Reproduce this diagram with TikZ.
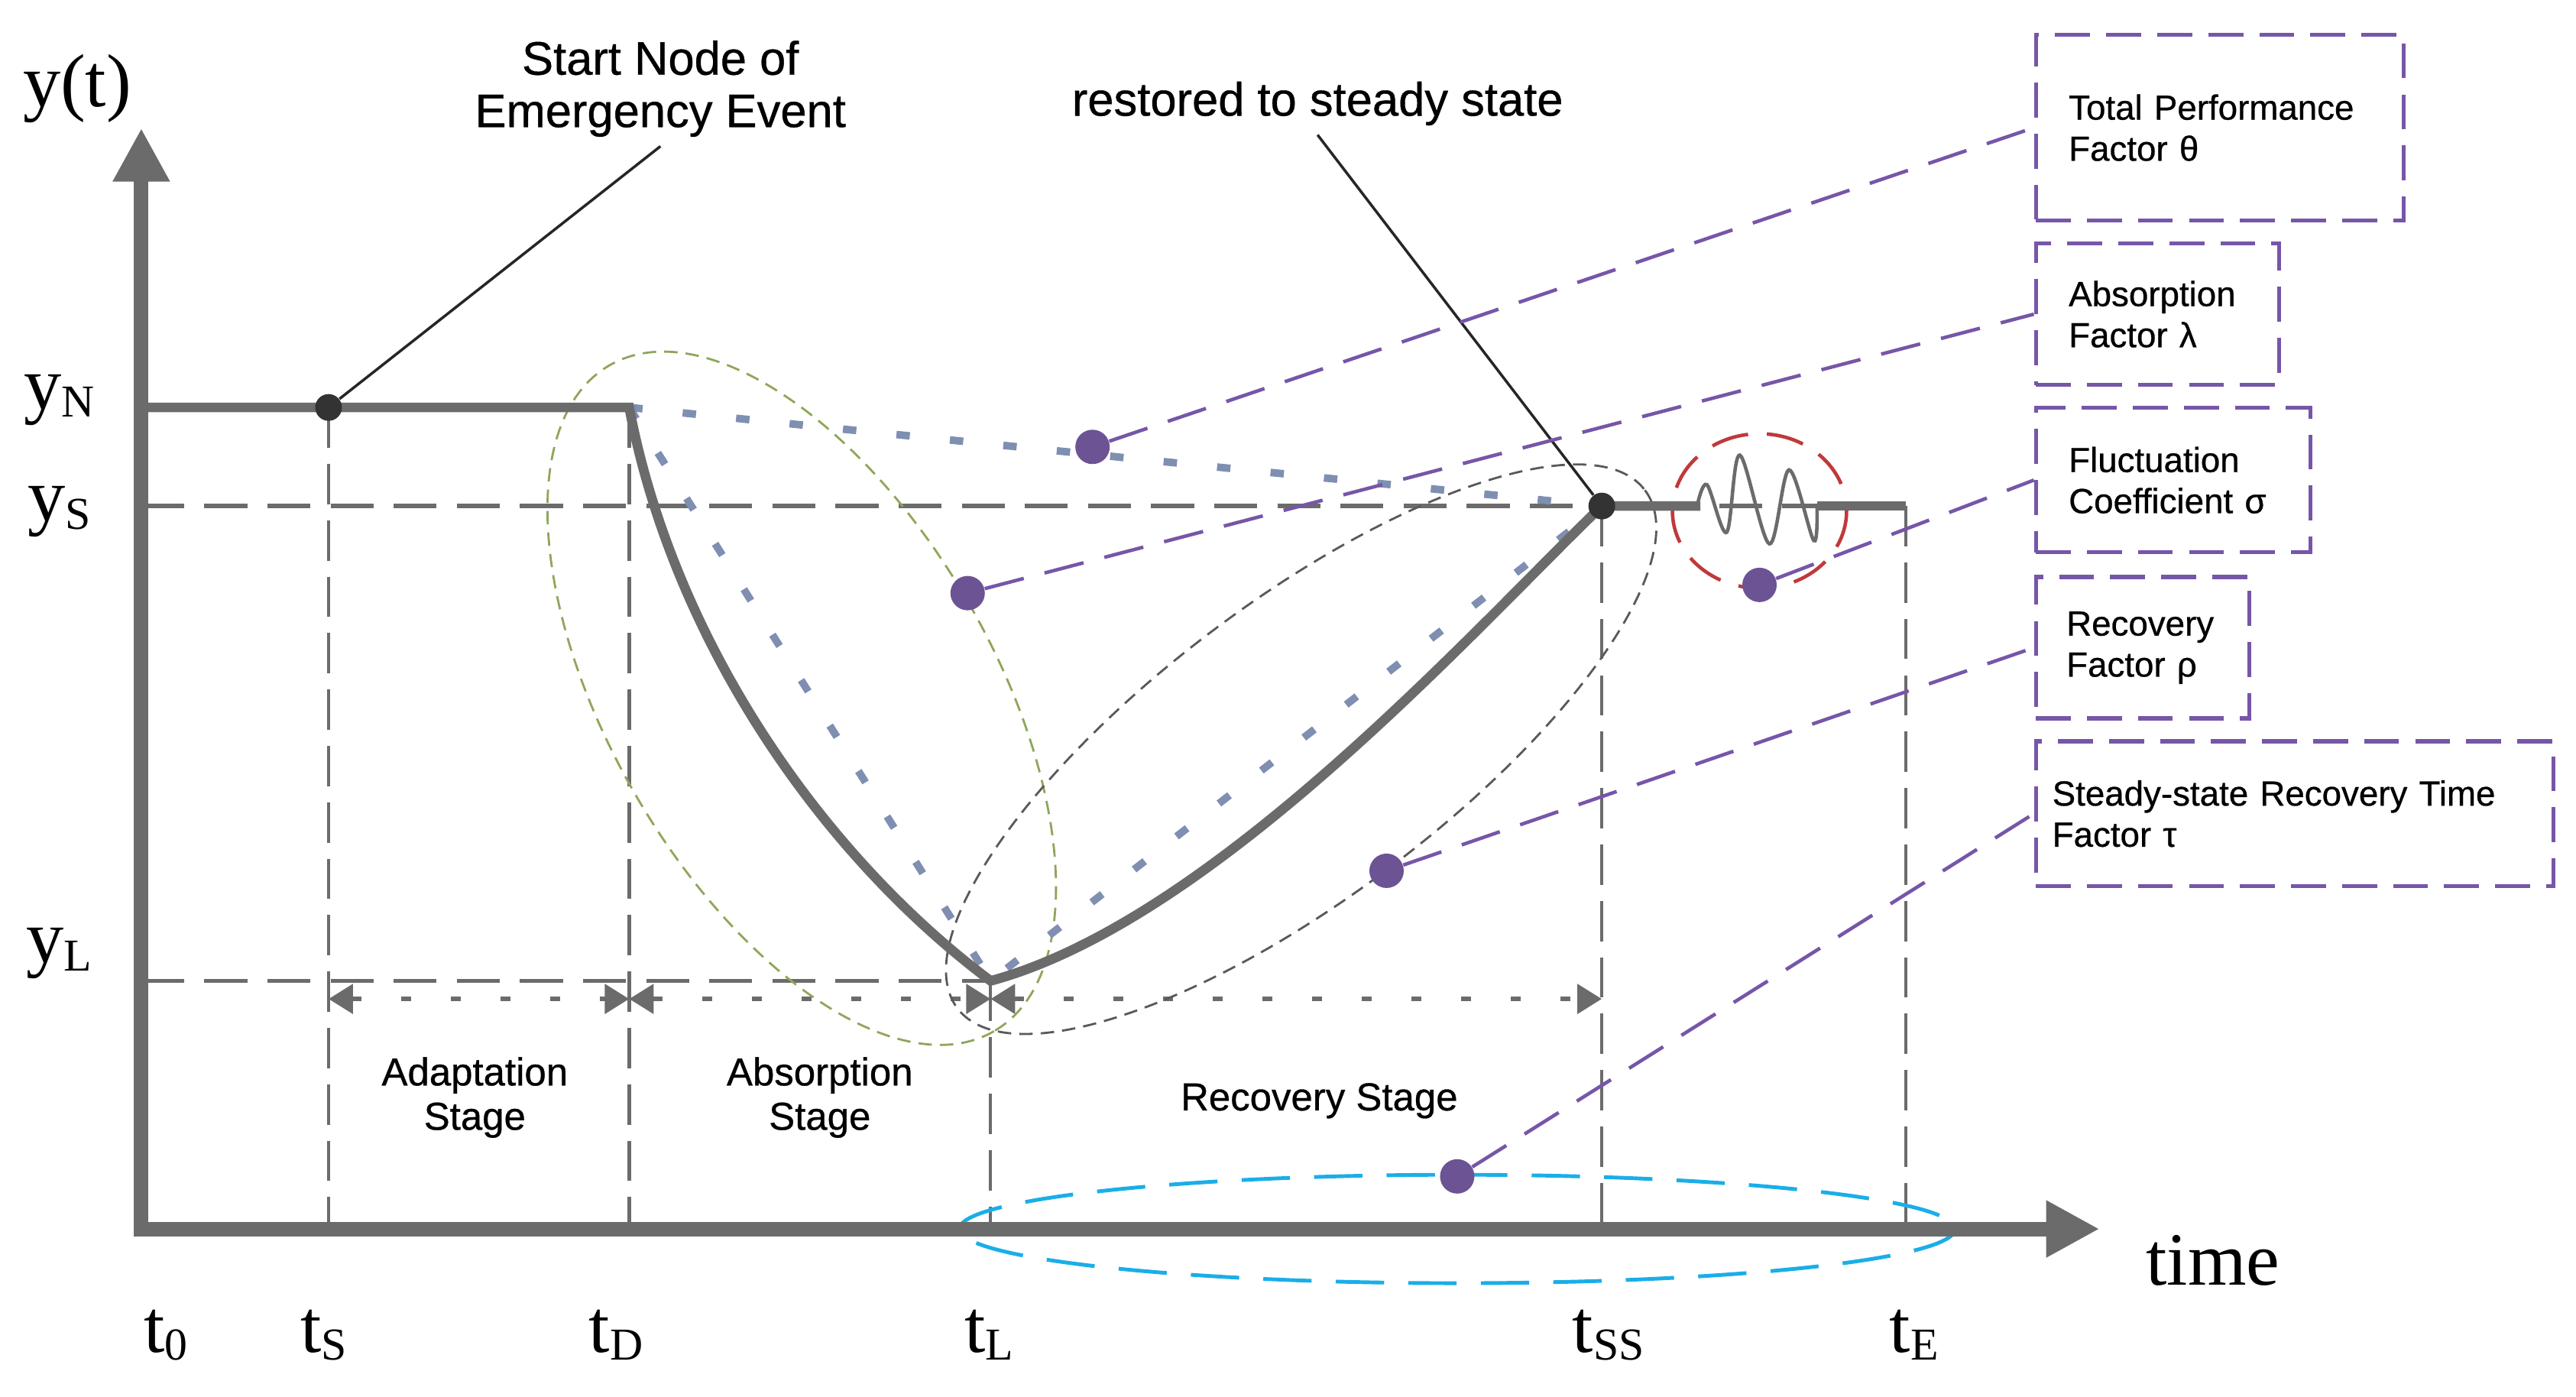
\documentclass[tikz,border=0pt]{standalone}
\usepackage{fontspec}
\setmainfont{Liberation Serif}
\newfontfamily\notefont[FakeBold=0.6]{Liberation Sans}
\newfontfamily\factorfont[FakeBold=0.6]{Liberation Sans}
\usetikzlibrary{arrows.meta,calc}
\definecolor{axgray}{HTML}{6B6B6B}
\definecolor{trackblue}{HTML}{7F8FB2}
\definecolor{facpurple}{HTML}{7656A8}
\definecolor{dotpurple}{HTML}{6C5394}
\definecolor{zonegreen}{HTML}{8FA65A}
\definecolor{zonered}{HTML}{C0393B}
\definecolor{zonecyan}{HTML}{1AAEE8}
\tikzset{
    >=Stealth,
    res/.style={
        x=0.0215cm, y=-0.0215cm,
        axis/.append style={draw=axgray,line width=5.4pt,{Triangle[length=0.7cm,width=0.7cm]}-{Triangle[length=0.7cm,width=0.7cm]}},
        perf/.append style={draw=axgray,line width=3.6pt},
        guide/.append style={draw=axgray,line width=1.6pt,dash pattern=on 16pt off 7.5pt},
        drop/.append style={draw=axgray,line width=1.2pt,dash pattern=on 15pt off 6pt},
        track/.append style={draw=trackblue,line width=2.8pt,dash pattern=on 5pt off 15pt},
        span/.append style={draw=axgray,line width=1.8pt,dash pattern=on 3.7pt off 14.8pt,{Triangle[length=0.32cm,width=0.38cm]}-{Triangle[length=0.32cm,width=0.38cm]}},
        link/.append style={draw=facpurple,line width=1.3pt,dash pattern=on 15pt off 8pt},
        lead/.append style={draw=black!85,line width=1pt},
        zone/.append style={line width=0.8pt,dash pattern=on 5pt off 3pt},
        sdot/.append style={circle,fill=black!80,inner sep=0pt,minimum size=0.35cm},
        pdot/.append style={circle,fill=dotpurple,inner sep=0pt,minimum size=0.45cm},
        axlbl/.append style={font=\fontsize{28}{30}\selectfont,inner sep=0pt,anchor=base},
        note/.append style={font=\notefont\fontsize{17.5}{19.5}\selectfont,align=center},
        stage/.append style={font=\notefont\fontsize{14.5}{16.5}\selectfont,align=center},
        factor/.append style={draw=facpurple,line width=1.5pt,dash pattern=on 13pt off 6pt,anchor=north west,align=left,inner xsep=0.43cm,font=\factorfont\fontsize{13}{15.3}\selectfont}
    }
}
\newcommand{\lowidx}[1]{\raisebox{-3pt}{\fontsize{17}{17}\selectfont #1}}

\begin{document}
\begin{tikzpicture}[res]
    \useasboundingbox (0,0) rectangle (1568,850);
    \coordinate (o) at (86,748);
    \coordinate (ytip) at (86,78);
    \coordinate (xtip) at (1278,748);
    \coordinate (yn) at (86,248);
    \coordinate (pstart) at (200,248);
    \coordinate (drop) at (383,248);
    \coordinate (low) at (603,597);
    \coordinate (pss) at (975,308);
    \coordinate (wa) at (1035,308);
    \coordinate (wb) at (1106,308);
    \coordinate (tend) at (1160,308);
    \coordinate (sp) at (86,608);

    % guide lines
    \draw[guide] (o |- pss) -- (tend);
    \draw[guide] (o |- low) -- (low);
    \draw[drop] (pstart) -- (pstart |- o);
    \draw[drop] (drop) -- (drop |- o);
    \draw[drop] (low) -- (low |- o);
    \draw[drop] (pss) -- (pss |- o);
    \draw[drop] (tend) -- (tend |- o);

    % stages
    \draw[span] (pstart |- sp) -- (drop |- sp);
    \draw[span] (drop |- sp) -- (low |- sp);
    \draw[span] (low |- sp) -- (pss |- sp);
    \node[stage] (adapt) at (289,668) {Adaptation\\Stage};
    \node[stage] (absorb) at (499,668) {Absorption\\Stage};
    \node[stage] (recov) at (803,670) {Recovery Stage};

    % zones
    \draw[zone,draw=zonegreen,rotate around={-60:(488,425)}] (488,425) ellipse [x radius=234,y radius=117];
    \draw[zone,draw=black!65,rotate around={37:(792,456)}] (792,456) ellipse [x radius=262,y radius=90];
    \draw[zone,draw=zonered,line width=1.3pt,dash pattern=on 14pt off 7pt] (1071,311) ellipse [x radius=53,y radius=47];
    \draw[zone,draw=zonecyan,line width=1.4pt,dash pattern=on 18pt off 9pt] (887,748) ellipse [x radius=303,y radius=33];

    % linear references
    \draw[track] (drop) -- (pss);
    \draw[track] (drop) -- (low) -- (pss);

    % axes and performance curve
    \draw[axis] (ytip) -- (o) -- (xtip);
    \draw[perf] (yn) -- (drop) .. controls (410,390) and (500,520) .. (low)
        .. controls (740,560) and (900,380) .. (pss) -- (wa);
    \draw[perf] (wb) -- (tend);
    \draw[axgray,line width=1.3pt] plot[smooth,tension=0.55] coordinates {(1033,308) (1039,295) (1051,324) (1059,277) (1077,331) (1089,286) (1104,329) (1106,308)};

    % events
    \node[sdot] (start) at (pstart) {};
    \node[sdot] (steady) at (pss) {};
    \node[note] (startnote) at (402,54) {Start Node of\\Emergency Event};
    \node[note] (steadynote) at (802,63) {restored to steady state};
    \draw[lead] (start) -- (startnote.south);
    \draw[lead] (steady) -- (steadynote.south);

    % factors
    \node[pdot] (dtheta) at (665,272) {};
    \node[pdot] (dlambda) at (589,361) {};
    \node[pdot] (dsigma) at (1071,356) {};
    \node[pdot] (drho) at (844,530) {};
    \node[pdot] (dtau) at (887,716) {};
    \node[factor,text width=3.956cm,minimum height=2.43cm] (ftheta) at (1238,20) {Total Performance\\Factor θ};
    \node[factor,text width=2.322cm,minimum height=1.849cm] (flambda) at (1238,147) {Absorption\\Factor λ};
    \node[factor,text width=2.73cm,minimum height=1.892cm] (fsigma) at (1238,247) {Fluctuation\\Coefficient σ};
    \node[factor,text width=1.995cm,inner xsep=0.4cm,minimum height=1.849cm] (frho) at (1238,350) {Recovery\\Factor ρ};
    \node[factor,text width=6.3425cm,inner xsep=0.215cm,minimum height=1.892cm] (ftau) at (1238,450) {Steady-state Recovery Time\\Factor τ};
    \draw[link] (dtheta) -- (ftheta.west);
    \draw[link] (dlambda) -- (flambda.west);
    \draw[link] (dsigma) -- (fsigma.west);
    \draw[link] (drho) -- (frho.west);
    \draw[link] (dtau) -- (ftau.west);

    % axis labels
    \node[axlbl] (ylab) at (47,65) {y(t)};
    \node[axlbl] (ynlab) at (36,249) {y\lowidx{N}};
    \node[axlbl] (yslab) at (36,317) {y\lowidx{S}};
    \node[axlbl] (yllab) at (36,586) {y\lowidx{L}};
    \node[axlbl] (xlab) at (1347,782) {time};
    \node[axlbl] (t0lab) at (101,823) {t\lowidx{0}};
    \node[axlbl] (tslab) at (197,823) {t\lowidx{S}};
    \node[axlbl] (tdlab) at (375,823) {t\lowidx{D}};
    \node[axlbl] (tllab) at (602,823) {t\lowidx{L}};
    \node[axlbl] (tsslab) at (979,823) {t\lowidx{SS}};
    \node[axlbl] (telab) at (1165,823) {t\lowidx{E}};
\end{tikzpicture}
\end{document}
